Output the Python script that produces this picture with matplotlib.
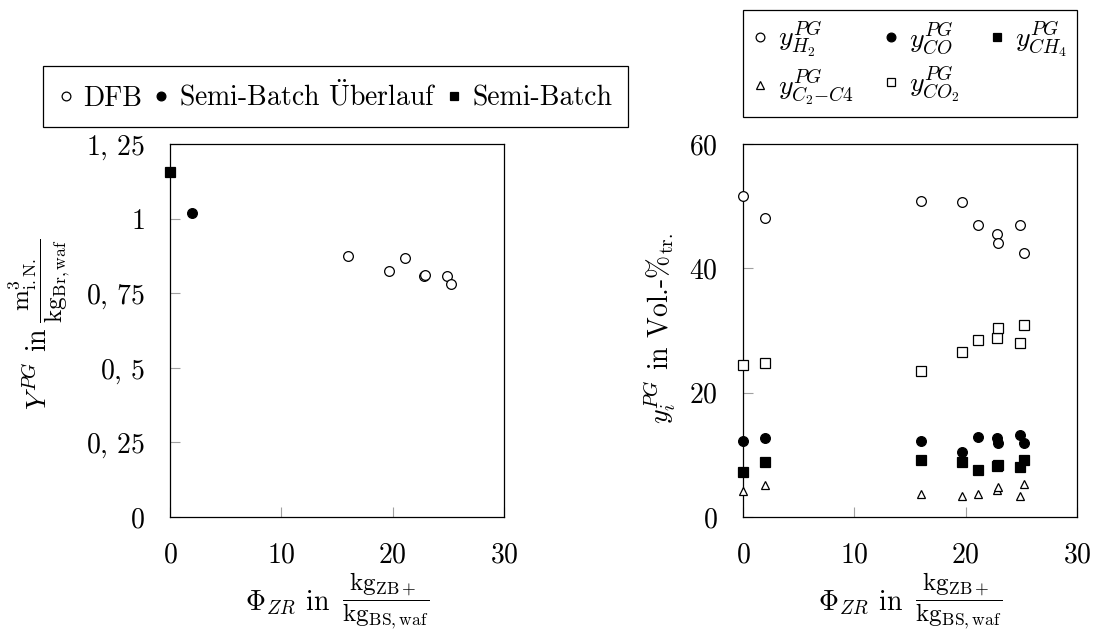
import matplotlib
matplotlib.use('Agg')
import matplotlib.pyplot as plt

plt.rcParams['font.family'] = 'serif'
plt.rcParams['font.serif'] = ['cmr10']
plt.rcParams['mathtext.fontset'] = 'cm'
plt.rcParams['axes.formatter.use_mathtext'] = True
plt.rcParams['font.size'] = 20

# ---- data ----
phi = [0, 2, 16, 19.7, 21.1, 22.8, 22.9, 24.85, 25.25]

# left panel: gas yield
phi_sb = [0]
Y_sb = [1.155]
phi_sbu = [2]
Y_sbu = [1.018]
phi_dfb = [16, 19.7, 21.1, 22.8, 22.9, 24.85, 25.25]
Y_dfb = [0.874, 0.823, 0.868, 0.808, 0.812, 0.806, 0.781]

# right panel: gas composition in Vol.-%
y_H2 = [51.6, 48.15, 50.9, 50.6, 46.9, 45.6, 44.0, 46.9, 42.4]
y_CO = [12.3, 12.7, 12.2, 10.45, 12.8, 12.7, 11.9, 13.25, 11.9]
y_CH4 = [7.24, 8.85, 9.17, 8.8, 7.56, 8.15, 8.4, 8.1, 9.17]
y_C2C4 = [4.2, 5.15, 3.75, 3.3, 3.7, 4.4, 4.8, 3.4, 5.3]
y_CO2 = [24.45, 24.8, 23.5, 26.6, 28.5, 28.85, 30.45, 28.05, 30.9]

x_ticks = [0, 10, 20, 30]
y1_ticks = [0, 0.25, 0.5, 0.75, 1, 1.25]
y1_labels = [r'$0$', r'$0,\,25$', r'$0,\,5$', r'$0,\,75$', r'$1$', r'$1,\,25$']
y2_ticks = [0, 20, 40, 60]

x_frac = r'$\dfrac{\mathrm{kg_{ZB+}}}{\mathrm{kg_{BS,waf}}}$'
y1_frac = r'$\dfrac{\mathrm{m^3_{i.N.}}}{\mathrm{kg_{Br,waf}}}$'
frac_size = 18

fig = plt.figure(figsize=(10.95, 6.32), dpi=100)
ax1 = fig.add_axes([170/1095, 1-517/632, 334/1095, 373/632])
ax2 = fig.add_axes([743/1095, 1-517/632, 334/1095, 373/632])

ms = 7
common = dict(linestyle='none', clip_on=False, zorder=5, markeredgewidth=0.9)

# ---- left ----
ax1.plot(phi_dfb, Y_dfb, marker='o', color='k', mfc='white', ms=ms, label='DFB', **common)
ax1.plot(phi_sbu, Y_sbu, marker='o', color='k', ms=ms, label=r'Semi-Batch $\ddot{\mathrm{U}}$berlauf', **common)
ax1.plot(phi_sb, Y_sb, marker='s', color='k', ms=ms, label='Semi-Batch', **common)
ax1.set_ylim(0, 1.25)
ax1.set_yticks(y1_ticks, y1_labels)
# y label: text part + larger fraction
ax1.text(-0.368, 0.509, r'$Y^{PG}$ in', rotation=90, rotation_mode='anchor',
         ha='right', va='baseline', transform=ax1.transAxes)
ax1.text(-0.389, 0.521, y1_frac, rotation=90, rotation_mode='anchor',
         ha='left', va='center', fontsize=frac_size, transform=ax1.transAxes)

# ---- right ----
ax2.plot(phi, y_H2, marker='o', color='k', mfc='white', ms=ms, label=r'$y^{PG}_{H_2}$', **common)
ax2.plot(phi, y_C2C4, marker='^', color='k', mfc='white', ms=6, label=r'$y^{PG}_{C_2{-}C4}$', **common)
ax2.plot(phi, y_CO, marker='o', color='k', ms=ms, label=r'$y^{PG}_{CO}$', **common)
ax2.plot(phi, y_CO2, marker='s', color='k', mfc='white', ms=ms, label=r'$y^{PG}_{CO_2}$', **common)
ax2.plot(phi, y_CH4, marker='s', color='k', ms=ms, label=r'$y^{PG}_{CH_4}$', **common)
ax2.set_ylim(0, 60)
ax2.set_yticks(y2_ticks, [f'${t}$' for t in y2_ticks])
ax2.set_ylabel(r'$y_i^{PG}$ in Vol.-$\%_{\mathrm{tr.}}$', va='center')
ax2.yaxis.set_label_coords(-0.249, 0.505)

for ax in (ax1, ax2):
    ax.set_xlim(0, 30)
    ax.set_xticks(x_ticks, [f'${t}$' for t in x_ticks])
    ax.tick_params(direction='in', length=7, width=0.8, color='#a0a0a0', pad=18,
                   top=False, right=False)
    for s in ax.spines.values():
        s.set_linewidth(0.9)
    # x label: text part + larger fraction
    ax.text(0.479, -0.249, r'$\Phi_{ZR}$ in', ha='right', va='baseline',
            transform=ax.transAxes)
    ax.text(0.515, -0.225, x_frac, ha='left', va='center', fontsize=frac_size,
            transform=ax.transAxes)

leg_kw = dict(frameon=True, fancybox=False, edgecolor='k', framealpha=1,
              handlelength=0.5, handletextpad=0.4, borderaxespad=0, markerscale=0.9)
l1 = fig.legend(*ax1.get_legend_handles_labels(), loc='center',
                bbox_to_anchor=(335.5/1095, 1-96.5/632), ncol=3, columnspacing=0.4,
                borderpad=0.55, **leg_kw)
l1.get_frame().set_linewidth(0.9)
l2 = fig.legend(*ax2.get_legend_handles_labels(), loc='center',
                bbox_to_anchor=(743/1095, 1-115/632, 334/1095, 103/632), mode='expand',
                ncol=3, columnspacing=0.2, borderpad=0.35, labelspacing=0.3, **leg_kw)
l2.get_frame().set_linewidth(0.9)

fig.savefig('out.png', dpi=100)
